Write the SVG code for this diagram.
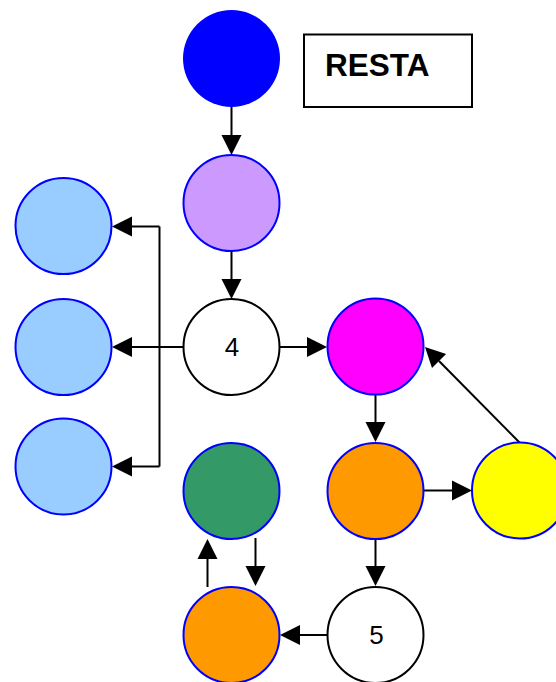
<svg xmlns="http://www.w3.org/2000/svg" width="556" height="682" viewBox="0 0 556 682">
<style>
.n{stroke:#0000FF;stroke-width:2}
.w{fill:#FFFFFF;stroke:#000000;stroke-width:2}
.c{fill:none;stroke:#000000;stroke-width:2}
.t{font-family:"Liberation Sans",Arial,sans-serif;font-size:26px;fill:#000000;text-anchor:middle}
</style>
<rect x="0" y="0" width="556" height="682" fill="#FFFFFF"/>
<g id="connectors">
<path class="c" d="M231.5,107 V135"/><path d="M221.5,135 L241.5,135 L231.5,155 Z"/>
<path class="c" d="M231.5,251 V279"/><path d="M221.5,279 L241.5,279 L231.5,299 Z"/>
<path class="c" d="M183,347 H132"/><path d="M132,337 L132,357 L112,347 Z"/>
<path class="c" d="M159.5,226.5 V466.5"/>
<path class="c" d="M159.5,226.5 H132"/><path d="M132,216.5 L132,236.5 L112,226.5 Z"/>
<path class="c" d="M159.5,466.5 H132"/><path d="M132,456.5 L132,476.5 L112,466.5 Z"/>
<path class="c" d="M280,347 H307"/><path d="M307,337 L307,357 L327,347 Z"/>
<path class="c" d="M375.5,395 V422"/><path d="M365.5,422 L385.5,422 L375.5,442 Z"/>
<path class="c" d="M424,490.5 H452"/><path d="M452,480.5 L452,500.5 L472,490.5 Z"/>
<path class="c" d="M519.5,442.5 L439,361"/><path d="M446.1,354 L432,368 L425,347 Z"/>
<path class="c" d="M375.5,539 V566"/><path d="M365.5,566 L385.5,566 L375.5,586 Z"/>
<path class="c" d="M327,635 H300"/><path d="M300,625 L300,645 L280,635 Z"/>
<path class="c" d="M207.5,587 V559"/><path d="M197.5,559 L217.5,559 L207.5,539 Z"/>
<path class="c" d="M255.5,538 V566"/><path d="M245.5,566 L265.5,566 L255.5,586 Z"/>
</g>
<g id="title">
<rect x="304" y="34.5" width="168" height="72.5" fill="#FFFFFF" stroke="#000000" stroke-width="2"/>
<text x="325" y="76" font-family="Liberation Sans,Arial,sans-serif" font-size="31.5" font-weight="bold">RESTA</text>
</g>
<g id="blue"><circle cx="231.5" cy="58.5" r="48.5" fill="#0000FF"/></g>
<g id="purple"><circle class="n" cx="231.5" cy="203" r="48" fill="#CC99FF"/></g>
<g id="node4"><circle class="w" cx="231.5" cy="347" r="48"/><text class="t" x="232" y="356">4</text></g>
<g id="lightblue1"><circle class="n" cx="63.5" cy="226" r="48" fill="#99CCFF"/></g>
<g id="lightblue2"><circle class="n" cx="63.5" cy="347" r="48" fill="#99CCFF"/></g>
<g id="lightblue3"><circle class="n" cx="63.5" cy="466.5" r="48" fill="#99CCFF"/></g>
<g id="magenta"><circle class="n" cx="375.5" cy="346.5" r="48" fill="#FF00FF"/></g>
<g id="orange1"><circle class="n" cx="375.5" cy="491" r="48" fill="#FF9900"/></g>
<g id="yellow"><circle class="n" cx="520" cy="490.5" r="48" fill="#FFFF00"/></g>
<g id="green"><circle class="n" cx="231.5" cy="491" r="48" fill="#339966"/></g>
<g id="orange2"><circle class="n" cx="231.5" cy="635" r="48" fill="#FF9900"/></g>
<g id="node5"><circle class="w" cx="375.5" cy="635" r="48"/><text class="t" x="376.5" y="644">5</text></g>
</svg>
